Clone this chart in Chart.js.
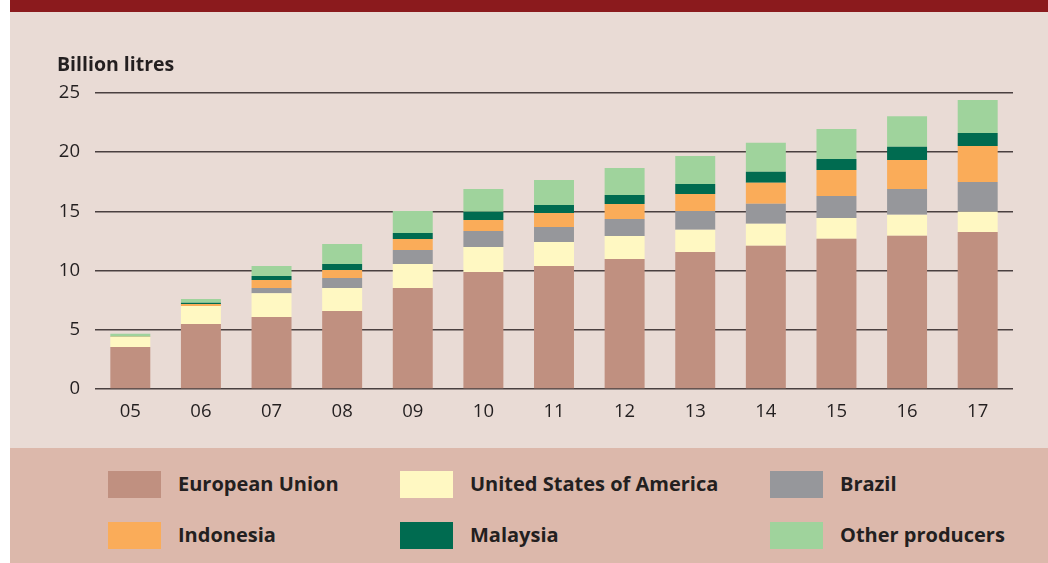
<!DOCTYPE html>
<html>
<head>
<meta charset="utf-8">
<script src="https://cdn.jsdelivr.net/npm/chart.js@4"></script>
<style>
  html, body { margin: 0; padding: 0; }
  body { width: 1048px; height: 563px; position: relative; background: #ffffff; overflow: hidden; font-family: "Open Sans", "Noto Sans", sans-serif; }
  #band { position: absolute; left: 10px; top: 0; width: 1038px; height: 12px; background: #8b1a1d; }
  #panel { position: absolute; left: 10px; top: 12px; width: 1038px; height: 436px; background: #e9dbd5; }
  #legendBox { position: absolute; left: 10px; top: 448px; width: 1038px; height: 115px; background: #dcb8ab; }
  #ytitle { position: absolute; left: 57px; top: 50px; font-weight: 700; font-size: 19.5px; color: #231f20; white-space: nowrap; }
  canvas#c { position: absolute; left: 0; top: 0; }
  .lt { position: absolute; font-weight: 700; font-size: 20px; color: #231f20; white-space: nowrap; line-height: 28px; }
</style>
</head>
<body>
<div id="band"></div>
<div id="panel"><canvas id="c" width="1038" height="436"></canvas></div>
<div id="ytitle">Billion litres</div>
<div id="legendBox"></div>
<script>
// ---- Data ----
const years = ["05", "06", "07", "08", "09", "10", "11", "12", "13", "14", "15", "16", "17"];
const europeanUnion = [3.55, 5.49, 6.08, 6.59, 8.53, 9.88, 10.39, 10.98, 11.58, 12.09, 12.68, 12.94, 13.27];
const unitedStates  = [0.85, 1.52, 2.00, 1.94, 2.02, 2.11, 2.02, 1.94, 1.86, 1.86, 1.77, 1.77, 1.69];
const brazil        = [0.00, 0.00, 0.45, 0.85, 1.18, 1.36, 1.27, 1.44, 1.60, 1.69, 1.86, 2.19, 2.53];
const indonesia     = [0.02, 0.17, 0.68, 0.67, 0.93, 0.93, 1.19, 1.26, 1.44, 1.77, 2.19, 2.45, 3.04];
const malaysia      = [0.00, 0.11, 0.33, 0.51, 0.51, 0.68, 0.67, 0.76, 0.84, 0.93, 0.93, 1.10, 1.10];
const otherProducers= [0.25, 0.31, 0.85, 1.69, 1.86, 1.94, 2.11, 2.28, 2.36, 2.45, 2.53, 2.59, 2.78];
const yTicks = [0, 5, 10, 15, 20, 25];
const seriesNames = ["European Union", "United States of America", "Brazil", "Indonesia", "Malaysia", "Other producers"];

// ---- Styles ----
const seriesColors = ["#c09080", "#fff8c2", "#96979b", "#faac59", "#006b50", "#9fd39c"];
const seriesValues = [europeanUnion, unitedStates, brazil, indonesia, malaysia, otherProducers];

const datasets = seriesNames.map((name, i) => ({
  label: name,
  data: seriesValues[i],
  backgroundColor: seriesColors[i],
  borderWidth: 0,
  categoryPercentage: 1.0,
  barPercentage: 0.566
}));

new Chart(document.getElementById('c'), {
  type: 'bar',
  data: { labels: years, datasets: datasets },
  options: {
    responsive: false,
    animation: false,
    layout: { padding: { left: 0, right: 35, top: 81, bottom: 0 } },
    plugins: { legend: { display: false }, tooltip: { enabled: false }, title: { display: false } },
    scales: {
      x: {
        stacked: true,
        grid: { display: false, drawTicks: false },
        border: { display: false },
        ticks: { color: '#231f20', font: { family: 'Open Sans', size: 18.5 }, padding: 12 },
        afterFit: (s) => { s.height = 59; }
      },
      y: {
        stacked: true,
        min: 0, max: 25,
        afterBuildTicks: (s) => { s.ticks = yTicks.map(v => ({ value: v })); },
        grid: { color: '#4a4040', lineWidth: 1.5, drawTicks: false },
        border: { display: false },
        ticks: { color: '#231f20', font: { family: 'Open Sans', size: 18.5 }, padding: 15 },
        afterFit: (s) => { s.width = 85; }
      }
    }
  }
});

// ---- HTML legend built from the series ----
const colX = [108, 400, 770];
const rowY = [471, 522];
seriesNames.forEach((name, i) => {
  const col = i % 3, row = Math.floor(i / 3);
  const sw = document.createElement('div');
  sw.style.cssText = `position:absolute;left:${colX[col]}px;top:${rowY[row]}px;width:53px;height:27px;background:${seriesColors[i]};`;
  document.body.appendChild(sw);
  const t = document.createElement('div');
  t.className = 'lt';
  t.textContent = name;
  t.style.left = (colX[col] + 70) + 'px';
  t.style.top = (rowY[row] - 1) + 'px';
  document.body.appendChild(t);
});
</script>
</body>
</html>
